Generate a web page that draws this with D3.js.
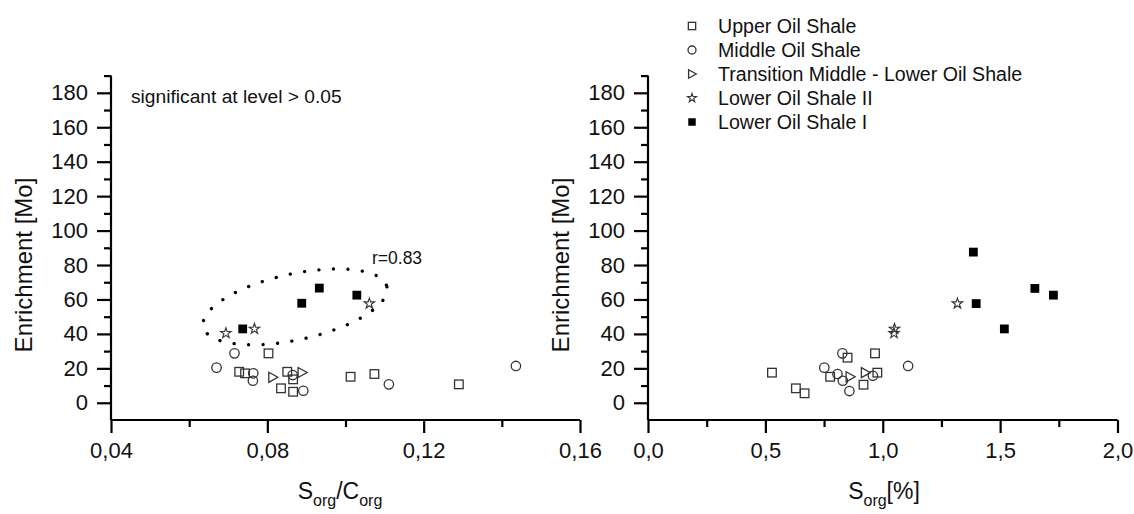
<!DOCTYPE html>
<html>
<head>
<meta charset="utf-8">
<script src="https://cdn.jsdelivr.net/npm/d3@7"></script>
<style>
  html, body { margin: 0; padding: 0; background: #fff; }
  svg { display: block; font-family: "Liberation Sans", Arial, sans-serif; }
</style>
</head>
<body>
<svg id="chart" width="1134" height="514"></svg>
<script>
// ---- data: Mo enrichment vs. Sorg/Corg (left) and vs. Sorg % (right) ----
const seriesNames = ["Upper Oil Shale", "Middle Oil Shale", "Transition Middle - Lower Oil Shale", "Lower Oil Shale II", "Lower Oil Shale I"];

const upperScX = [0.0803, 0.0728, 0.0743, 0.0851, 0.0866, 0.0835, 0.0866, 0.1013, 0.1074, 0.1290];
const upperScY = [28.7, 18.0, 17.1, 18.0, 13.6, 8.4, 6.4, 15.1, 16.7, 10.7];
const middleScX = [0.0716, 0.0670, 0.0764, 0.0763, 0.0865, 0.0892, 0.1111, 0.1436];
const middleScY = [28.7, 20.4, 17.1, 12.8, 16.1, 7.0, 10.7, 21.4];
const transScX = [0.0814, 0.0889];
const transScY = [14.8, 17.6];
const lower2ScX = [0.0694, 0.0767, 0.1061];
const lower2ScY = [40.4, 42.9, 57.6];
const lower1ScX = [0.0737, 0.0888, 0.0933, 0.1029];
const lower1ScY = [42.9, 57.8, 66.6, 62.5];

const upperSX = [0.528, 0.630, 0.667, 0.776, 0.850, 0.967, 0.918, 0.977];
const upperSY = [17.5, 8.4, 5.5, 15.1, 26.2, 28.7, 10.5, 17.5];
const middleSX = [0.828, 0.751, 0.807, 0.830, 0.858, 0.958, 1.108];
const middleSY = [28.7, 20.4, 16.7, 12.8, 6.8, 15.7, 21.4];
const transSX = [0.861, 0.926];
const transSY = [15.1, 17.5];
const lower2SX = [1.048, 1.050, 1.318];
const lower2SY = [40.4, 42.9, 57.6];
const lower1SX = [1.386, 1.398, 1.518, 1.648, 1.727];
const lower1SY = [87.5, 57.6, 42.9, 66.4, 62.5];

const yTicks = [0, 20, 40, 60, 80, 100, 120, 140, 160, 180];
const yMinor = [10, 30, 50, 70, 90, 110, 130, 150, 170, 190];
const xTicksSc = [0.04, 0.08, 0.12, 0.16];
const xMinorSc = [0.06, 0.10, 0.14];
const xTicksS = [0.0, 0.5, 1.0, 1.5, 2.0];
const xMinorS = [0.25, 0.75, 1.25, 1.75];

// correlation ellipse around the Lower Oil Shale samples (left panel)
const ellipseCenter = [0.0871, 55.7];
const ellipseLabel = "r=0.83";
const noteText = "significant at level > 0.05";

// ---- layout ----
const svg = d3.select("#chart");
const ink = "#000";
const markStroke = "#333";
const y = d3.scaleLinear().domain([-10, 190]).range([420, 75.6]);

const panels = [
  {
    x: d3.scaleLinear().domain([0.04, 0.16]).range([111, 580]),
    ticks: xTicksSc, minor: xMinorSc, fmt: d => d3.format(".2f")(d).replace(".", ","),
    series: [[upperScX, upperScY], [middleScX, middleScY], [transScX, transScY], [lower2ScX, lower2ScY], [lower1ScX, lower1ScY]],
    title: [["S", 0], ["org", 1], ["/C", 0], ["org", 1]], titleX: 340
  },
  {
    x: d3.scaleLinear().domain([0, 2]).range([648, 1117.5]),
    ticks: xTicksS, minor: xMinorS, fmt: d => d3.format(".1f")(d).replace(".", ","),
    series: [[upperSX, upperSY], [middleSX, middleSY], [transSX, transSY], [lower2SX, lower2SY], [lower1SX, lower1SY]],
    title: [["S", 0], ["org", 1], ["[%]", 0]], titleX: 884
  }
];

// marker shapes per series
const triPath = "M-4,-5L5,0L-4,5Z";
const starSym = d3.symbol().type(d3.symbolStar);
function drawMarker(g, kind, cx, cy, scale) {
  const s = scale || 1;
  if (kind === 0) {
    g.append("rect").attr("x", cx - 4.3 * s).attr("y", cy - 4.3 * s)
      .attr("width", 8.6 * s).attr("height", 8.6 * s)
      .attr("fill", "none").attr("stroke", markStroke).attr("stroke-width", 1.3);
  } else if (kind === 1) {
    g.append("circle").attr("cx", cx).attr("cy", cy).attr("r", 4.7 * s)
      .attr("fill", "none").attr("stroke", markStroke).attr("stroke-width", 1.3);
  } else if (kind === 2) {
    g.append("path").attr("d", triPath)
      .attr("transform", `translate(${cx},${cy}) scale(${s})`)
      .attr("fill", "none").attr("stroke", markStroke).attr("stroke-width", 1.3 / s);
  } else if (kind === 3) {
    g.append("path").attr("d", starSym.size(34 * s * s)())
      .attr("transform", `translate(${cx},${cy})`)
      .attr("fill", "none").attr("stroke", markStroke).attr("stroke-width", 1.1);
  } else {
    g.append("rect").attr("x", cx - 4.4 * s).attr("y", cy - 4.4 * s)
      .attr("width", 8.8 * s).attr("height", 8.8 * s)
      .attr("fill", "#000");
  }
}

panels.forEach(p => {
  const g = svg.append("g");
  const x0 = p.x.range()[0];

  // y axis: major ticks with labels, minor ticks between
  const yAxis = g.append("g").attr("transform", `translate(${x0},0)`)
    .call(d3.axisLeft(y).tickValues(yTicks).tickSize(14).tickPadding(9).tickFormat(d3.format("d")));
  yAxis.append("g").call(d3.axisLeft(y).tickValues(yMinor).tickSize(7).tickFormat(""));
  yAxis.selectAll(".domain").remove();
  g.append("line").attr("x1", x0).attr("x2", x0).attr("y1", y(190)).attr("y2", y(-10))
    .attr("stroke", ink).attr("stroke-width", 2.2);

  // x axis
  const xAxis = g.append("g").attr("transform", `translate(0,${y(-10)})`)
    .call(d3.axisBottom(p.x).tickValues(p.ticks).tickSize(13).tickPadding(9).tickFormat(p.fmt));
  xAxis.append("g").call(d3.axisBottom(p.x).tickValues(p.minor).tickSize(7).tickFormat(""));
  xAxis.selectAll(".domain").remove();
  g.append("line").attr("x1", p.x.range()[0]).attr("x2", p.x.range()[1])
    .attr("y1", y(-10)).attr("y2", y(-10))
    .attr("stroke", ink).attr("stroke-width", 2.2);

  g.selectAll(".tick line").attr("stroke", ink).attr("stroke-width", 2.2);
  g.selectAll(".tick text").attr("fill", "#111").style("font-size", "22px")
    .style("font-family", "'Liberation Sans', Arial, sans-serif");

  // axis titles
  g.append("text")
    .attr("transform", `translate(${x0 - 87},${y(80)})rotate(-90)`)
    .attr("text-anchor", "middle").attr("dy", "0.35em")
    .style("font-size", "24px").attr("fill", "#111")
    .text("Enrichment [Mo]");

  const t = g.append("text").attr("x", p.titleX).attr("y", 499)
    .attr("text-anchor", "middle").style("font-size", "23px").attr("fill", "#111");
  p.title.forEach(([s, sub]) => {
    const ts = t.append("tspan").text(s);
    if (sub) ts.style("font-size", "16px").attr("dy", 7);
    else if (t.selectAll("tspan").size() > 1) ts.attr("dy", -7);
  });

  // points
  const mg = g.append("g");
  p.series.forEach(([xs, ys], k) => {
    xs.forEach((xv, i) => drawMarker(mg, k, p.x(xv), y(ys[i])));
  });
});

// left panel annotations
const pl = panels[0];
svg.append("text").attr("x", 131).attr("y", 96).attr("dy", "0.35em")
  .style("font-size", "19.2px").attr("fill", "#111").text(noteText);

const ell = d3.path();
const ecx = pl.x(ellipseCenter[0]), ecy = y(ellipseCenter[1]);
const ea = 94, eb = 33, rot = -12.3 * Math.PI / 180;
const nSteps = 180;
for (let i = 0; i <= nSteps; i++) {
  const t = (i / nSteps) * 2 * Math.PI;
  const ux = ea * Math.cos(t), uy = eb * Math.sin(t);
  const px = ecx + ux * Math.cos(rot) - uy * Math.sin(rot);
  const py = ecy + ux * Math.sin(rot) + uy * Math.cos(rot);
  if (i === 0) ell.moveTo(px, py); else ell.lineTo(px, py);
}
svg.append("path").attr("d", ell.toString())
  .attr("fill", "none").attr("stroke", "#000").attr("stroke-width", 3.3)
  .attr("stroke-linecap", "round").attr("stroke-dasharray", "0.1 14.4");

svg.append("text").attr("x", 372).attr("y", 258).attr("dy", "0.35em")
  .style("font-size", "17.5px").attr("fill", "#111").text(ellipseLabel);

// legend
const lg = svg.append("g");
seriesNames.forEach((name, k) => {
  const ly = 26 + k * 24;
  drawMarker(lg, k, 692, ly, 0.85);
  lg.append("text").attr("x", 718).attr("y", ly).attr("dy", "0.35em")
    .style("font-size", "19.6px").attr("fill", "#111").text(name);
});
</script>
</body>
</html>
